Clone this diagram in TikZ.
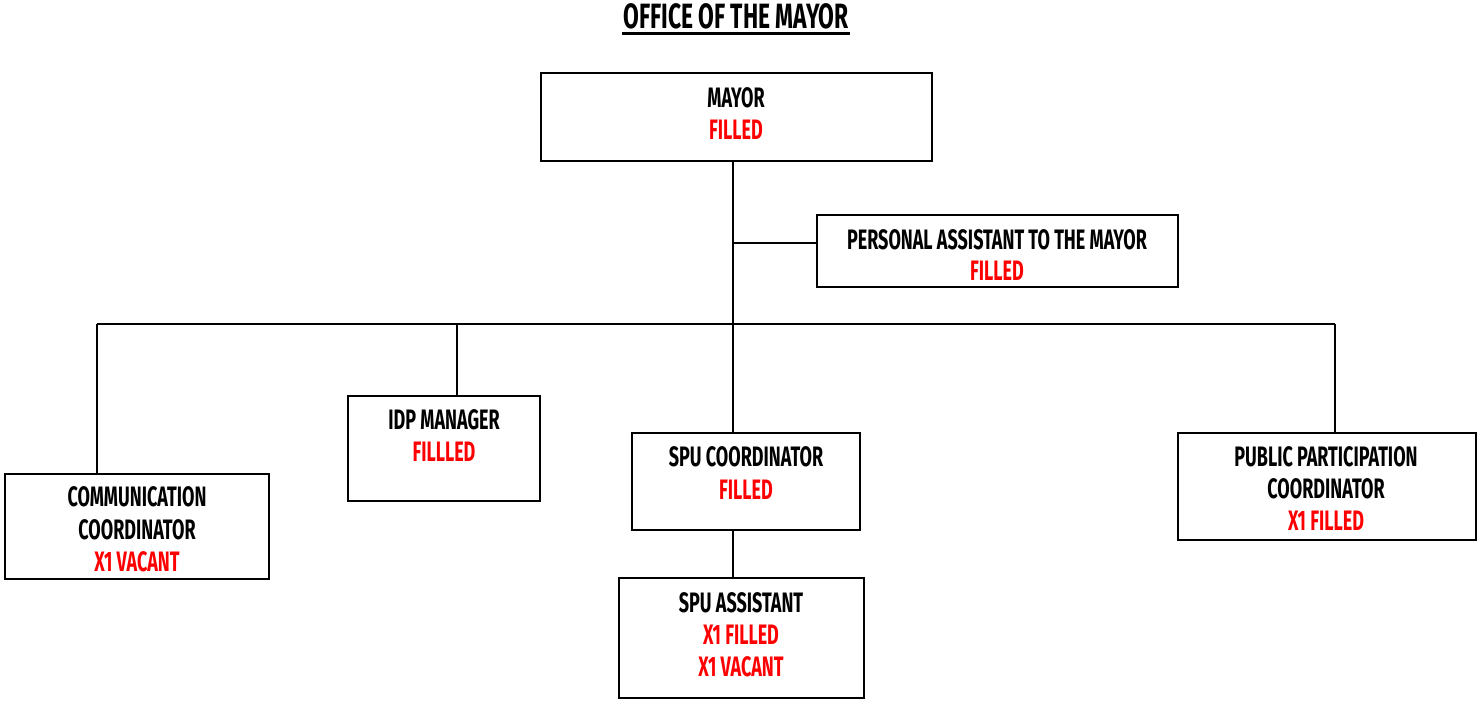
\documentclass[tikz,border=0pt]{standalone}
\usepackage{fontspec}
\setmainfont{Fira Sans}[FakeStretch=0.64]
\usetikzlibrary{fit}
\begin{document}
\begin{tikzpicture}[x=0.02cm,y=-0.02cm,
    post/.style={draw,line width=1pt,inner sep=0pt},
    role/.style={inner sep=0pt,font=\fontsize{16}{18}\selectfont\bfseries},
    state/.style={role,text=red},
    every path/.style={line width=1pt}]
  \useasboundingbox (0,0) rectangle (1477,702);
  % title
  \node[inner sep=0pt,font=\fontsize{20}{22}\selectfont\bfseries\addfontfeature{FakeStretch=0.65}] (title) at (736,16) {OFFICE OF THE MAYOR};
  \draw[line width=1.5pt] ([yshift=-0.08cm]title.south west) -- ([yshift=-0.08cm]title.south east);
  % boxes
  \node[post,fit={(541,73) (932,161)}] (mayor) {};
  \node[role] (mayor-1) at (736,98) {MAYOR};
  \node[state] (mayor-2) at (736,130) {FILLED};
  \node[post,fit={(817,215) (1178,287)}] (pa) {};
  \node[role] (pa-1) at (997,240) {PERSONAL ASSISTANT TO THE MAYOR};
  \node[state] (pa-2) at (997,271) {FILLED};
  \node[post,fit={(5,474) (269,579)}] (comm) {};
  \node[role] (comm-1) at (137,497) {COMMUNICATION};
  \node[role] (comm-2) at (137,530) {COORDINATOR};
  \node[state] (comm-3) at (137,562) {X1 VACANT};
  \node[post,fit={(348,396) (540,501)}] (idp) {};
  \node[role] (idp-1) at (444,420) {IDP MANAGER};
  \node[state] (idp-2) at (444,452) {FILLLED};
  \node[post,fit={(632,433) (860,530)}] (spuc) {};
  \node[role] (spuc-1) at (746,457) {SPU COORDINATOR};
  \node[state] (spuc-2) at (746,490) {FILLED};
  \node[post,fit={(619,578) (864,698)}] (spua) {};
  \node[role] (spua-1) at (741,603) {SPU ASSISTANT};
  \node[state] (spua-2) at (741,635) {X1 FILLED};
  \node[state] (spua-3) at (741,667) {X1 VACANT};
  \node[post,fit={(1178,433) (1476,540)}] (pub) {};
  \node[role] (pub-1) at (1326,457) {PUBLIC PARTICIPATION};
  \node[role] (pub-2) at (1326,489) {COORDINATOR};
  \node[state] (pub-3) at (1326,521) {X1 FILLED};
  % lines
  \coordinate (trunk) at (733,324);
  \coordinate (pa-join) at (733,243);
  \coordinate (bus-l) at (97,324);
  \coordinate (idp-join) at (457,324);
  \coordinate (bus-r) at (1335,324);
  \draw (trunk |- mayor.south) -- (trunk |- spuc.north);
  \draw (pa-join) -- (pa-join -| pa.west);
  \draw (bus-l) -- (bus-r);
  \draw (bus-l) -- (bus-l |- comm.north);
  \draw (idp-join) -- (idp-join |- idp.north);
  \draw (bus-r) -- (bus-r |- pub.north);
  \draw (trunk |- spuc.south) -- (trunk |- spua.north);
\end{tikzpicture}
\end{document}
